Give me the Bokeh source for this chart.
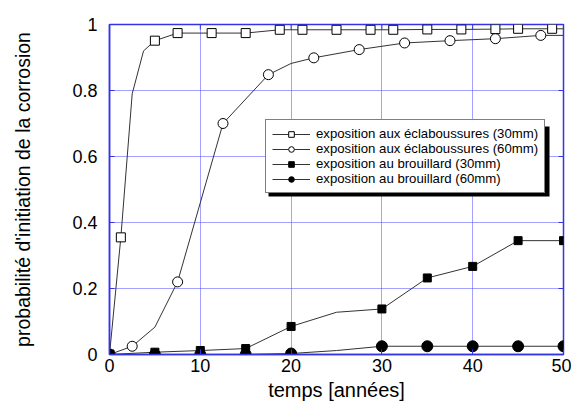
import math
from bokeh.plotting import figure
from bokeh.models import FixedTicker, Range1d, BoxAnnotation
from bokeh.embed import file_html
from bokeh.resources import INLINE

# ---- data ----
ecl30_x = [0, 1.25, 2.5, 3.75, 5, 7.5, 11.25, 15, 18.75, 21.25, 25, 28.75, 31.25, 35, 38.75, 42.5, 45, 48.75, 50]
ecl30_y = [0, 0.355, 0.79, 0.92, 0.951, 0.974, 0.974, 0.974, 0.984, 0.984, 0.984, 0.984, 0.984, 0.985, 0.985, 0.986, 0.987, 0.987, 0.987]
ecl30_mx = [0, 1.25, 5, 7.5, 11.25, 15, 18.75, 21.25, 25, 28.75, 31.25, 35, 38.75, 42.5, 45, 48.75]
ecl30_my = [0, 0.355, 0.951, 0.974, 0.974, 0.974, 0.984, 0.984, 0.984, 0.984, 0.984, 0.985, 0.985, 0.986, 0.987, 0.987]

ecl60_x = [0, 2.5, 5, 7.5, 12.5, 17.5, 20, 22.5, 27.5, 32.5, 37.5, 42.5, 47.5, 50]
ecl60_y = [0, 0.025, 0.083, 0.22, 0.70, 0.848, 0.882, 0.899, 0.924, 0.944, 0.951, 0.957, 0.967, 0.967]
ecl60_mx = [0, 2.5, 7.5, 12.5, 17.5, 22.5, 27.5, 32.5, 37.5, 42.5, 47.5]
ecl60_my = [0, 0.025, 0.22, 0.70, 0.848, 0.899, 0.924, 0.944, 0.951, 0.957, 0.967]

br30_x = [0, 5, 10, 15, 20, 25, 30, 35, 40, 45, 50]
br30_y = [0, 0.007, 0.012, 0.018, 0.085, 0.128, 0.138, 0.232, 0.267, 0.345, 0.345]
br30_mx = [0, 5, 10, 15, 20, 30, 35, 40, 45, 50]
br30_my = [0, 0.007, 0.012, 0.018, 0.085, 0.138, 0.232, 0.267, 0.345, 0.345]

br60_x = [0, 5, 10, 15, 20, 25, 30, 35, 40, 45, 50]
br60_y = [0, 0, 0, 0, 0.003, 0.012, 0.025, 0.025, 0.025, 0.025, 0.025]
br60_mx = [0, 5, 10, 15, 20, 30, 35, 40, 45, 50]
br60_my = [0, 0, 0, 0, 0.003, 0.025, 0.025, 0.025, 0.025, 0.025]

series_labels = [
    "exposition aux éclaboussures (30mm)",
    "exposition aux éclaboussures (60mm)",
    "exposition au brouillard (30mm)",
    "exposition au brouillard (60mm)",
]

x_ticks = [0, 10, 20, 30, 40, 50]
y_ticks = [0, 0.2, 0.4, 0.6, 0.8, 1.0]
y_tick_labels = ["0", "0.2", "0.4", "0.6", "0.8", "1"]

x_title = "temps [années]"
y_title = "probabilité d'initiation de la corrosion"

# ---- styling ----
FONT = "Liberation Sans"
BLUE = "#3434e6"
GRID_BLUE = "#4646ff"
LINE = "#333333"
X0, X1, Y0, Y1 = 0, 50, 0, 1
FW, FH = 454, 330

p = figure(width=571, height=403,
           x_range=Range1d(X0, X1), y_range=Range1d(Y0, Y1),
           output_backend="svg", toolbar_location=None,
           min_border_left=109, min_border_top=24, min_border_right=8, min_border_bottom=49,
           background_fill_color="white", border_fill_color="white")

p.outline_line_color = BLUE
p.outline_line_width = 1.5

for ax in (p.xaxis, p.yaxis):
    ax.axis_line_color = BLUE
    ax.axis_line_width = 1.5
    ax.major_tick_line_color = BLUE
    ax.major_tick_in = 5
    ax.major_tick_out = 0
    ax.minor_tick_line_color = None
    ax.major_label_text_font = FONT
    ax.major_label_text_font_size = "18px"
    ax.major_label_text_color = "black"
    ax.axis_label_text_font = FONT
    ax.axis_label_text_font_style = "normal"
    ax.axis_label_text_color = "black"

p.xaxis.ticker = FixedTicker(ticks=x_ticks)
p.yaxis.ticker = FixedTicker(ticks=y_ticks)
p.yaxis.major_label_overrides = dict(zip(y_ticks, y_tick_labels))
p.xaxis.major_label_standoff = 4
p.yaxis.major_label_standoff = 12

p.yaxis.axis_label = y_title
p.yaxis.axis_label_text_font_size = "19.5px"
p.yaxis.axis_label_standoff = 35
p.xaxis.axis_label = x_title
p.xaxis.axis_label_text_font_size = "20px"
p.xaxis.axis_label_standoff = 4

p.xgrid.ticker = FixedTicker(ticks=x_ticks)
p.ygrid.ticker = FixedTicker(ticks=y_ticks)
for g in (p.xgrid, p.ygrid):
    g.grid_line_color = GRID_BLUE
    g.grid_line_dash = "1 1"
    g.grid_line_width = 1

# inside tick marks on the right and top edges of the frame
p.ray(x=[X1] * len(y_ticks), y=y_ticks, length=5, length_units="screen",
      angle=math.pi, line_color=BLUE, line_width=1)
p.ray(x=x_ticks, y=[Y1] * len(x_ticks), length=5, length_units="screen",
      angle=-math.pi / 2, line_color=BLUE, line_width=1)

# legend shadow (pixel offsets from frame's bottom-left converted to data)
def px_x(px):
    return X0 + px * (X1 - X0) / FW

def px_y(py):
    return Y0 + py * (Y1 - Y0) / FH

shadow = BoxAnnotation(left=px_x(159), right=px_x(440), bottom=px_y(158), top=px_y(228),
                       fill_color="black", fill_alpha=1, line_color=None, level="underlay")
p.add_layout(shadow)

# series
p.line(ecl30_x, ecl30_y, line_color=LINE, line_width=1, legend_label=series_labels[0])
p.scatter(ecl30_mx, ecl30_my, marker="square", size=9, fill_color="white",
          line_color="black", line_width=1, legend_label=series_labels[0])

p.line(ecl60_x, ecl60_y, line_color=LINE, line_width=1, legend_label=series_labels[1])
p.scatter(ecl60_mx, ecl60_my, marker="circle", size=10, fill_color="white",
          line_color="black", line_width=1, legend_label=series_labels[1])

p.line(br30_x, br30_y, line_color=LINE, line_width=1, legend_label=series_labels[2])
p.scatter(br30_mx, br30_my, marker="square", size=8, fill_color="black",
          line_color="black", line_width=1, legend_label=series_labels[2])

p.line(br60_x, br60_y, line_color=LINE, line_width=1, legend_label=series_labels[3])
p.scatter(br60_mx, br60_my, marker="circle", size=11, fill_color="black",
          line_color="black", line_width=1, legend_label=series_labels[3])

lg = p.legend[0]
lg.location = (156, 161)
lg.border_line_color = "black"
lg.border_line_width = 1
lg.background_fill_color = "white"
lg.background_fill_alpha = 1
lg.label_text_font = FONT
lg.label_text_font_size = "13.2px"
lg.label_text_color = "black"
lg.glyph_width = 38
lg.glyph_height = 14
lg.label_height = 14
lg.label_standoff = 6
lg.padding = 6
lg.spacing = -3
lg.margin = 0

open("out.html", "w").write(file_html(p, INLINE))
